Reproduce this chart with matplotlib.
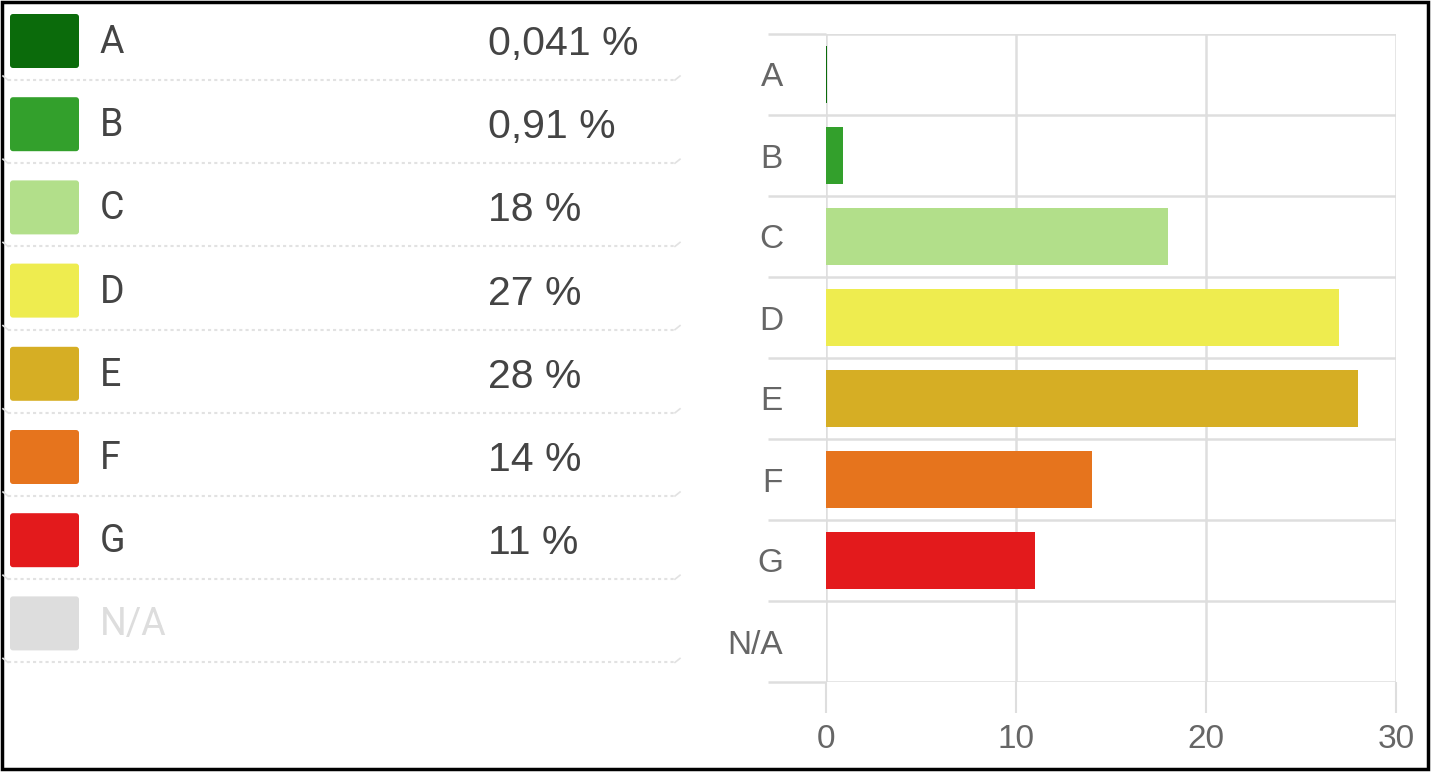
import matplotlib.pyplot as plt
from matplotlib.patches import FancyBboxPatch, Rectangle

plt.rcParams['font.family'] = ['Roboto', 'DejaVu Sans']

categories = ['A', 'B', 'C', 'D', 'E', 'F', 'G', 'N/A']
values = [0.041, 0.91, 18, 27, 28, 14, 11, 0]
value_labels = ['0,041 %', '0,91 %', '18 %', '27 %', '28 %', '14 %', '11 %', '']
colors = ['#0b6b0b', '#33a02c', '#b2df8a', '#eeec4f',
          '#d6ae24', '#e6741d', '#e31a1c', '#dddddd']
xticks = [0, 10, 20, 30]

W, H = 1431, 778
fig = plt.figure(figsize=(W / 100, H / 100), dpi=100)

# left legend, drawn in pixel coordinates
lg = fig.add_axes([0, 0, 1, 1])
lg.set_xlim(0, W)
lg.set_ylim(H, 0)
lg.axis('off')

step = 83.2
for i, (cat, lab, col) in enumerate(zip(categories, value_labels, colors)):
    top = 14 + i * step
    lg.add_patch(FancyBboxPatch((10, top), 69, 54,
                                boxstyle='round,pad=0,rounding_size=3',
                                fc=col, ec='none'))
    tcol = '#dddddd' if cat == 'N/A' else '#444444'
    lg.text(100, top + 39, cat, fontsize=27, color=tcol, va='baseline')
    if lab:
        lg.text(488, top + 41, lab, fontsize=29.5, color='#444444', va='baseline',
                family=['Liberation Sans', 'DejaVu Sans'])
    sy = top + 66
    lg.plot([8, 675], [sy, sy], color='#e2e2e2', lw=1.5, dashes=(1.5, 1.5))
    lg.plot([3, 8], [sy - 4, sy], color='#e2e2e2', lw=1.2)
    lg.plot([675, 680], [sy, sy - 4], color='#e2e2e2', lw=1.2)

# outer frame
lg.add_patch(Rectangle((1.5, 1.5), 1426, 767, fill=False, ec='black', lw=2.5))

# bar chart
ax = fig.add_axes([826 / W, 1 - 682 / H, (1396 - 826) / W, (682 - 34) / H])
pos = [i + 0.5 for i in range(len(categories))]
ax.barh(pos, values, height=0.71, color=colors, zorder=3)
ax.set_xlim(0, 30)
ax.set_ylim(len(categories), 0)
for s in ax.spines.values():
    s.set_visible(False)

grid = '#dedede'
ax.set_yticks(range(len(categories) + 1))
ax.set_yticklabels([])
ax.set_yticks(pos, minor=True)
ax.set_yticklabels(categories, minor=True, family=['Liberation Sans', 'DejaVu Sans'])
ax.tick_params(axis='y', which='major', length=42, width=1.8, color=grid)
ax.tick_params(axis='y', which='minor', length=0, pad=31, labelsize=24,
               labelcolor='#666666')
ax.set_xticks(xticks)
ax.set_xticklabels([str(t) for t in xticks], family=['Liberation Sans', 'DejaVu Sans'])
ax.tick_params(axis='x', length=22, width=1.5, color=grid, pad=8,
               labelsize=24, labelcolor='#666666')
ax.grid(True, which='major', color=grid, lw=1.8, zorder=0)

fig.savefig('out.png', dpi=100)
